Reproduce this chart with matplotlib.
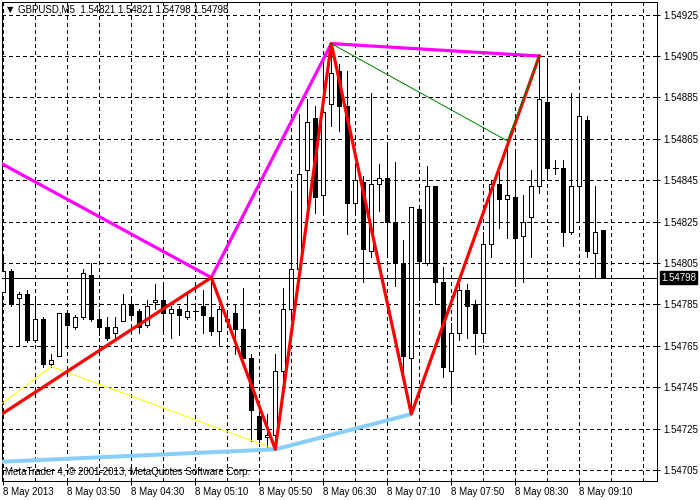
import matplotlib
matplotlib.use("Agg")
import matplotlib.pyplot as plt
from matplotlib.transforms import blended_transform_factory

plt.rcParams['font.family'] = ['Liberation Sans', 'DejaVu Sans']

# ---- data (GBPUSD M5, 8 May 2013, bars from 03:10) ----
opens = [1.54791, 1.54801, 1.54788, 1.54790, 1.54768, 1.54778, 1.54756, 1.54760, 1.54781, 1.54774,
         1.54779, 1.54799, 1.54778, 1.54774, 1.54771, 1.54777, 1.54785, 1.54782, 1.54775, 1.54786,
         1.54787, 1.54781, 1.54783, 1.54779, 1.54782, 1.54784, 1.54779, 1.54772, 1.54778, 1.54781,
         1.54773, 1.54759, 1.54731, 1.54721, 1.54722, 1.54753, 1.54783, 1.54802, 1.54850, 1.54875,
         1.54838, 1.54882, 1.54898, 1.54881, 1.54834, 1.54844, 1.54811, 1.54843, 1.54846, 1.54825,
         1.54805, 1.54759, 1.54831, 1.54805, 1.54842, 1.54796, 1.54753, 1.54771, 1.54792, 1.54785,
         1.54771, 1.54814, 1.54843, 1.54836, 1.54837, 1.54818, 1.54827, 1.54842, 1.54883, 1.54851,
         1.54851, 1.54820, 1.54842, 1.54874, 1.54810, 1.54821]
highs = [1.54808, 1.54802, 1.54791, 1.54792, 1.54789, 1.54779, 1.54761, 1.54781, 1.54782, 1.54780,
         1.54802, 1.54805, 1.54783, 1.54779, 1.54779, 1.54790, 1.54787, 1.54783, 1.54787, 1.54795,
         1.54794, 1.54784, 1.54784, 1.54790, 1.54785, 1.54792, 1.54798, 1.54784, 1.54781, 1.54785,
         1.54793, 1.54761, 1.54734, 1.54732, 1.54761, 1.54793, 1.54838, 1.54877, 1.54884, 1.54881,
         1.54902, 1.54911, 1.54901, 1.54898, 1.54852, 1.54847, 1.54887, 1.54853, 1.54862, 1.54854,
         1.54816, 1.54832, 1.54831, 1.54852, 1.54842, 1.54803, 1.54776, 1.54795, 1.54795, 1.54787,
         1.54820, 1.54845, 1.54849, 1.54864, 1.54858, 1.54838, 1.54850, 1.54905, 1.54902, 1.54855,
         1.54855, 1.54887, 1.54885, 1.54876, 1.54842, 1.54821]
lows = [1.54791, 1.54784, 1.54765, 1.54767, 1.54767, 1.54755, 1.54755, 1.54760, 1.54765, 1.54773,
        1.54778, 1.54777, 1.54770, 1.54768, 1.54769, 1.54777, 1.54779, 1.54771, 1.54774, 1.54783,
        1.54771, 1.54769, 1.54770, 1.54778, 1.54779, 1.54771, 1.54770, 1.54765, 1.54775, 1.54761,
        1.54759, 1.54719, 1.54717, 1.54716, 1.54715, 1.54748, 1.54779, 1.54801, 1.54829, 1.54829,
        1.54828, 1.54871, 1.54869, 1.54819, 1.54829, 1.54796, 1.54808, 1.54830, 1.54808, 1.54794,
        1.54752, 1.54732, 1.54787, 1.54804, 1.54785, 1.54750, 1.54739, 1.54768, 1.54769, 1.54761,
        1.54767, 1.54808, 1.54822, 1.54817, 1.54794, 1.54796, 1.54808, 1.54839, 1.54845, 1.54848,
        1.54813, 1.54819, 1.54825, 1.54808, 1.54798, 1.54798]
closes = [1.54801, 1.54785, 1.54790, 1.54768, 1.54778, 1.54756, 1.54758, 1.54781, 1.54775, 1.54779,
          1.54800, 1.54778, 1.54774, 1.54769, 1.54774, 1.54785, 1.54780, 1.54774, 1.54784, 1.54787,
          1.54781, 1.54783, 1.54780, 1.54782, 1.54782, 1.54780, 1.54772, 1.54783, 1.54777, 1.54773,
          1.54759, 1.54734, 1.54720, 1.54722, 1.54753, 1.54783, 1.54802, 1.54848, 1.54873, 1.54837,
          1.54878, 1.54897, 1.54881, 1.54834, 1.54845, 1.54812, 1.54843, 1.54846, 1.54825, 1.54805,
          1.54760, 1.54832, 1.54806, 1.54842, 1.54796, 1.54755, 1.54771, 1.54792, 1.54784, 1.54771,
          1.54814, 1.54843, 1.54836, 1.54838, 1.54817, 1.54825, 1.54842, 1.54884, 1.54851, 1.54851,
          1.54820, 1.54842, 1.54876, 1.54811, 1.54820, 1.54798]

x_tick_idx = [0, 8, 16, 24, 32, 40, 48, 56, 64, 72]
x_tick_labels = ["8 May 2013", "8 May 03:50", "8 May 04:30", "8 May 05:10", "8 May 05:50",
                 "8 May 06:30", "8 May 07:10", "8 May 07:50", "8 May 08:30", "8 May 09:10"]
y_ticks = [1.54705, 1.54725, 1.54745, 1.54765, 1.54785, 1.54805,
           1.54825, 1.54845, 1.54865, 1.54885, 1.54905, 1.54925]
y_tick_labels = ["1.54705", "1.54725", "1.54745", "1.54765", "1.54785", "1.54805",
                 "1.54825", "1.54845", "1.54865", "1.54885", "1.54905", "1.54925"]
bid_price = 1.54798

# zigzag overlay pivots (bar index, price)
red_idx = [-0.2, 26, 34, 41, 51, 67]
red_px = [1.54732, 1.54798, 1.54715, 1.54911, 1.54732, 1.54905]
magenta_idx = [-0.2, 26, 41, 67]
magenta_px = [1.54853, 1.54798, 1.54911, 1.54905]
yellow_idx = [-0.2, 6, 34]
yellow_px = [1.54737, 1.54755, 1.54715]
blue_idx = [-0.2, 34, 51]
blue_px = [1.54709, 1.54715, 1.54732]
green_idx = [41, 63, 67]
green_px = [1.54911, 1.54864, 1.54905]

title = "GBPUSD,M5  1.54821 1.54821 1.54798 1.54798"
copyright_text = "MetaTrader 4, \u00a9 2001-2013, MetaQuotes Software Corp."

# ---- figure ----
W, H = 700, 500
fig = plt.figure(figsize=(7, 5), dpi=100)
fig.patch.set_facecolor('white')
ax = fig.add_axes([2 / W, (H - 481) / H, 655 / W, 479 / H])
ax.set_facecolor('white')
ax.set_xlim(-0.16, 81.71)
ax.set_ylim(1.546997, 1.549311)

PX = 0.72  # one pixel in points

# grid
for gx in range(0, 84, 4):
    ax.axvline(gx, color='black', lw=PX, ls=(0, (3, 3)), zorder=0, antialiased=False)
for gy in y_ticks:
    ax.axhline(gy, color='black', lw=PX, ls=(0, (3, 3)), zorder=0, antialiased=False)

# candles
idx = list(range(len(opens)))
ax.vlines(idx, lows, highs, color='black', lw=PX, zorder=2, antialiased=False)
bottoms = [min(o, c) for o, c in zip(opens, closes)]
heights = [abs(c - o) for o, c in zip(opens, closes)]
colors = ['white' if c > o else 'black' for o, c in zip(opens, closes)]
ax.bar(idx, heights, bottom=bottoms, width=0.5, color=colors, edgecolor='black',
       linewidth=PX, zorder=3, antialiased=False)
doji = [i for i in idx if opens[i] == closes[i]]
ax.hlines([opens[i] for i in doji], [i - 0.3 for i in doji], [i + 0.3 for i in doji],
          color='black', lw=PX, zorder=3, antialiased=False)

# bid line
ax.axhline(bid_price, color='black', lw=PX, zorder=4, antialiased=False)

# overlays
ax.plot(yellow_idx, yellow_px, color='#FFFF00', lw=PX, zorder=5)
ax.plot(blue_idx, blue_px, color='#87CEFA', lw=2.9, zorder=5, solid_capstyle='butt')
ax.plot(magenta_idx, magenta_px, color='#FF00FF', lw=2.3, zorder=6)
ax.plot(red_idx, red_px, color='#FF0000', lw=2.3, zorder=7)
ax.plot(green_idx, green_px, color='#008000', lw=PX, zorder=8)

# axes styling
for s in ax.spines.values():
    s.set_color('black')
    s.set_linewidth(PX)
ax.yaxis.tick_right()
ax.set_yticks(y_ticks)
ax.set_yticklabels(y_tick_labels)
ax.set_xticks(x_tick_idx)
ax.set_xticklabels(x_tick_labels)
for lab in ax.get_xticklabels():
    lab.set_ha('left')
ax.tick_params(axis='y', which='both', direction='out', length=2.5, width=PX, pad=2,
               labelsize=7, colors='black', left=False)
ax.tick_params(axis='x', which='both', direction='out', length=3, width=PX, pad=1.5,
               labelsize=7, colors='black')

# bid price label
tr = blended_transform_factory(ax.transAxes, ax.transData)
ax.text(1.0 + 4 / 655, bid_price, "1.54798", transform=tr, ha='left', va='center',
        fontsize=7, color='white',
        bbox=dict(boxstyle='square,pad=0.15', fc='black', ec='black'), zorder=10, clip_on=False)

# title and copyright
ax.text(5 / 655, 1 - 8 / 479, "\u25bc", transform=ax.transAxes, ha='left', va='center',
        fontsize=6, color='black', family=['DejaVu Sans'])
ax.text(16 / 655, 1 - 8 / 479, title, transform=ax.transAxes, ha='left', va='center',
        fontsize=7, color='black')
ax.text(3 / 655, 9 / 479, copyright_text, transform=ax.transAxes, ha='left', va='center',
        fontsize=7, color='black', zorder=10)

fig.savefig("out.png", dpi=100, facecolor='white')
